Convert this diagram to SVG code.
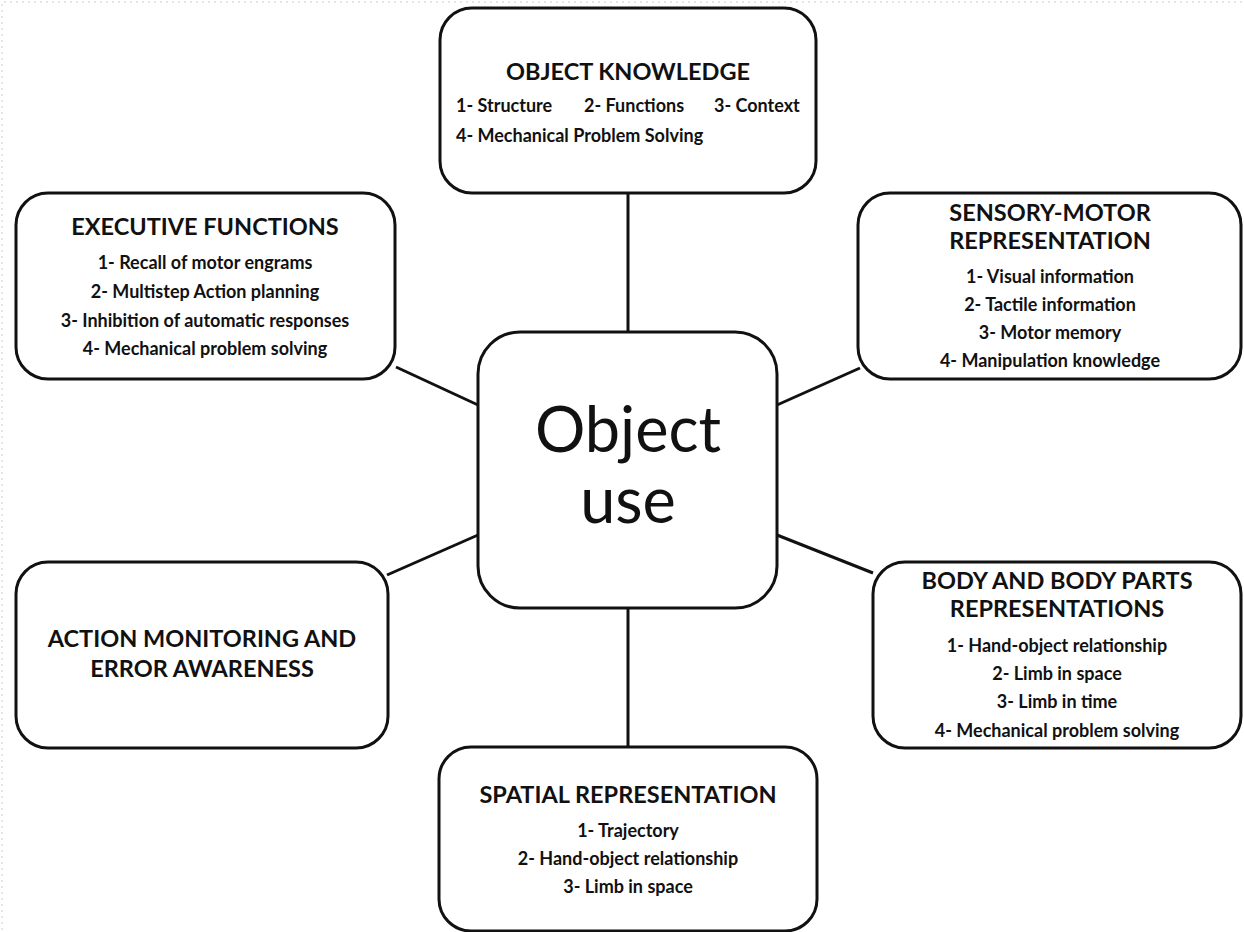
<svg xmlns="http://www.w3.org/2000/svg" width="1244" height="932" viewBox="0 0 1244 932">
  <style>
    .box { fill: #ffffff; stroke: #111111; stroke-width: 3; }
    .link { stroke: #111111; stroke-width: 3; fill: none; }
    .title { font-family: Lato, "Liberation Sans", sans-serif; font-weight: bold; font-size: 23.5px; fill: #111111; text-anchor: middle; }
    .item { font-family: Lato, "Liberation Sans", sans-serif; font-weight: bold; font-size: 18px; fill: #111111; text-anchor: middle; }
    .itemL { font-family: Lato, "Liberation Sans", sans-serif; font-weight: bold; font-size: 18px; fill: #111111; }
    .hub { font-family: Lato, "Liberation Sans", sans-serif; font-size: 63px; fill: #111111; text-anchor: middle; }
    .edge { stroke: #e6e6e6; stroke-width: 2; stroke-dasharray: 2 4; fill: none; }
  </style>

  <rect width="1244" height="932" fill="#ffffff"/>
  <path class="edge" d="M2,930 V2 H1242"/>

  <!-- spokes from the hub to each surrounding box -->
  <g id="connectors">
    <line class="link" x1="628" y1="193" x2="628" y2="332"/>
    <line class="link" x1="628" y1="608" x2="628" y2="747"/>
    <line class="link" x1="396" y1="367" x2="478" y2="405"/>
    <line class="link" x1="860" y1="368" x2="777" y2="405"/>
    <line class="link" x1="387" y1="575" x2="478" y2="535"/>
    <line class="link" x1="873" y1="573" x2="777" y2="535"/>
  </g>

  <g id="object-knowledge">
    <rect class="box" x="440" y="8" width="376" height="185" rx="32"/>
    <text class="title" x="628" y="80">OBJECT KNOWLEDGE</text>
    <text class="itemL" x="456" y="112">1- Structure</text>
    <text class="itemL" x="584" y="112">2- Functions</text>
    <text class="itemL" x="714" y="112">3- Context</text>
    <text class="itemL" x="456" y="142">4- Mechanical Problem Solving</text>
  </g>

  <g id="executive-functions">
    <rect class="box" x="16" y="193" width="379" height="186" rx="32"/>
    <text class="title" x="205" y="235">EXECUTIVE FUNCTIONS</text>
    <text class="item" x="205" y="269">1- Recall of motor engrams</text>
    <text class="item" x="205" y="298">2- Multistep Action planning</text>
    <text class="item" x="205" y="327">3- Inhibition of automatic responses</text>
    <text class="item" x="205" y="355">4- Mechanical problem solving</text>
  </g>

  <g id="sensory-motor">
    <rect class="box" x="858" y="193" width="383" height="186" rx="32"/>
    <text class="title" x="1050" y="221">SENSORY-MOTOR</text>
    <text class="title" x="1050" y="249">REPRESENTATION</text>
    <text class="item" x="1050" y="283">1- Visual information</text>
    <text class="item" x="1050" y="311">2- Tactile information</text>
    <text class="item" x="1050" y="339">3- Motor memory</text>
    <text class="item" x="1050" y="367">4- Manipulation knowledge</text>
  </g>

  <g id="object-use">
    <rect class="box" x="478" y="332" width="299" height="276" rx="42"/>
    <text class="hub" x="628" y="452">Object</text>
    <text class="hub" x="628" y="523">use</text>
  </g>

  <g id="action-monitoring">
    <rect class="box" x="16" y="562" width="372" height="186" rx="32"/>
    <text class="title" x="202" y="647">ACTION MONITORING AND</text>
    <text class="title" x="202" y="677">ERROR AWARENESS</text>
  </g>

  <g id="body-representations">
    <rect class="box" x="873" y="562" width="368" height="186" rx="32"/>
    <text class="title" x="1057" y="589">BODY AND BODY PARTS</text>
    <text class="title" x="1057" y="617">REPRESENTATIONS</text>
    <text class="item" x="1057" y="652">1- Hand-object relationship</text>
    <text class="item" x="1057" y="680">2- Limb in space</text>
    <text class="item" x="1057" y="708">3- Limb in time</text>
    <text class="item" x="1057" y="737">4- Mechanical problem solving</text>
  </g>

  <g id="spatial-representation">
    <rect class="box" x="439" y="747" width="378" height="184" rx="32"/>
    <text class="title" x="628" y="803">SPATIAL REPRESENTATION</text>
    <text class="item" x="628" y="837">1- Trajectory</text>
    <text class="item" x="628" y="865">2- Hand-object relationship</text>
    <text class="item" x="628" y="893">3- Limb in space</text>
  </g>
</svg>
